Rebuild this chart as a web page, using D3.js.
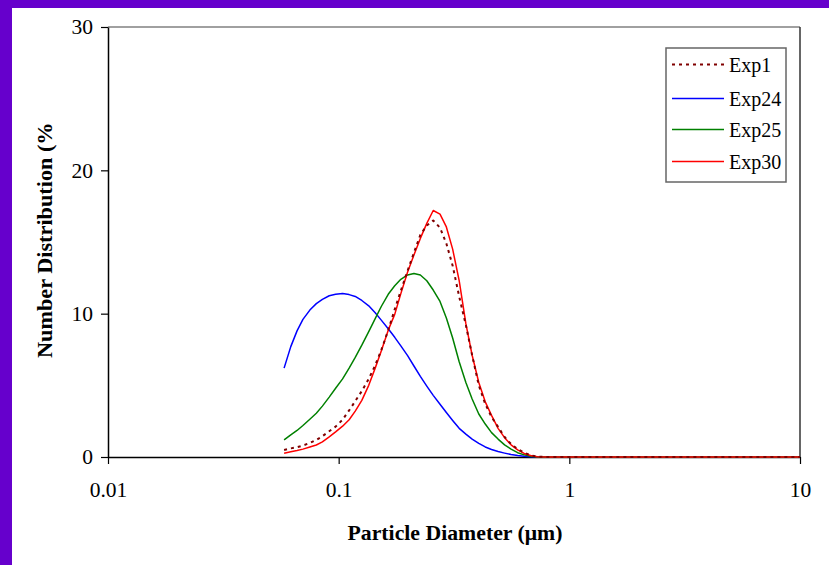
<!DOCTYPE html>
<html><head><meta charset="utf-8">
<script src="https://cdn.jsdelivr.net/npm/d3@7"></script>
<style>
html,body{margin:0;padding:0;background:#fff;}
svg{display:block;}
text{font-family:"Liberation Serif","Times New Roman",serif;}
</style></head>
<body>
<script>
const diameters = [0.058,0.062,0.066,0.070,0.075,0.080,0.085,0.091,0.097,0.104,0.111,0.118,0.126,0.135,0.144,0.153,0.164,0.175,0.186,0.199,0.212,0.226,0.241,0.257,0.275,0.293,0.312,0.333,0.356,0.379,0.405,0.432,0.460,0.491,0.524,0.559,0.597,0.637,0.679,0.725,0.8,1.0,1.5,2,3,5,7,10];
const exp1  = [0.49,0.6,0.68,0.8,0.98,1.19,1.45,1.8,2.12,2.6,3.25,3.9,4.6,5.45,6.4,7.45,8.85,10.3,11.6,13.0,14.25,15.5,16.15,16.5,16.0,14.9,13.35,11.2,9.2,7.1,5.0,3.7,2.8,2.1,1.4,0.9,0.55,0.3,0.12,0.03,0,0,0,0,0,0,0,0];
const exp24 = [6.2,7.7,8.8,9.6,10.25,10.7,11.0,11.25,11.35,11.4,11.33,11.2,10.92,10.55,10.06,9.55,8.95,8.35,7.75,7.07,6.35,5.62,4.95,4.3,3.68,3.1,2.55,2.0,1.6,1.25,0.95,0.7,0.52,0.38,0.27,0.17,0.1,0.05,0.02,0,0,0,0,0,0,0,0,0];
const exp25 = [1.2,1.55,1.85,2.2,2.63,3.05,3.55,4.18,4.8,5.45,6.2,6.95,7.8,8.75,9.65,10.5,11.35,11.95,12.4,12.7,12.8,12.7,12.3,11.65,10.85,9.7,8.3,6.65,5.2,4.05,3.0,2.3,1.7,1.25,0.85,0.55,0.3,0.15,0.05,0,0,0,0,0,0,0,0,0];
const exp30 = [0.26,0.36,0.45,0.55,0.7,0.84,1.05,1.4,1.75,2.15,2.6,3.2,3.95,5.0,6.2,7.4,8.85,9.95,11.4,12.9,14.1,15.25,16.3,17.2,16.95,16.05,14.5,12.3,9.3,7.1,5.2,3.85,2.9,2.0,1.35,0.85,0.5,0.25,0.1,0.02,0,0,0,0,0,0,0,0];
const seriesNames = ["Exp1","Exp24","Exp25","Exp30"];
const xTicks = [0.01,0.1,1,10];
const xTickLabels = ["0.01","0.1","1","10"];
const yTicks = [0,10,20,30];
const xTitle = "Particle Diameter (\u03bcm)";
const yTitle = "Number Distribution (%)";

const W = 829, H = 565;
const styles = {
  Exp1:  {color:"#800000", width:2, dash:"3,4"},
  Exp24: {color:"#0000FF", width:1.5, dash:null},
  Exp25: {color:"#008000", width:1.5, dash:null},
  Exp30: {color:"#FF0000", width:1.5, dash:null}
};
const seriesData = {Exp1:exp1, Exp24:exp24, Exp25:exp25, Exp30:exp30};

const svg = d3.select("body").append("svg").attr("width",W).attr("height",H);
svg.append("rect").attr("width",W).attr("height",H).attr("fill","#fff");
// purple frame
svg.append("rect").attr("x",0).attr("y",0).attr("width",W).attr("height",8).attr("fill","#6600CC");
svg.append("rect").attr("x",0).attr("y",0).attr("width",12).attr("height",H).attr("fill","#6600CC");

const x = d3.scaleLog().domain([0.01,10]).range([108,800]);
const y = d3.scaleLinear().domain([0,30]).range([457,27]);

// plot frame top & right
svg.append("line").attr("x1",x(0.01)).attr("x2",x(10)).attr("y1",y(30)).attr("y2",y(30)).attr("stroke","#808080").attr("stroke-width",1.5);
svg.append("line").attr("x1",x(10)).attr("x2",x(10)).attr("y1",y(30)).attr("y2",y(0)).attr("stroke","#333").attr("stroke-width",1.5);

// axes
const xAxis = d3.axisBottom(x).tickValues(xTicks).tickFormat((d,i)=>xTickLabels[i]).tickSize(7).tickSizeOuter(0).tickPadding(18);
const gx = svg.append("g").attr("transform",`translate(0,${y(0)})`).call(xAxis);
gx.select(".domain").attr("stroke","#000").attr("stroke-width",1.5);
gx.selectAll(".tick line").attr("stroke","#000").attr("stroke-width",1.2);
gx.selectAll("text").attr("font-size",21.5).attr("fill","#000").style("font-family",'"Liberation Serif",serif');

const yAxis = d3.axisLeft(y).tickValues(yTicks).tickSize(7).tickSizeOuter(0).tickPadding(8);
const gy = svg.append("g").attr("transform",`translate(${x(0.01)},0)`).call(yAxis);
gy.select(".domain").attr("stroke","#000").attr("stroke-width",1.5);
gy.selectAll(".tick line").attr("stroke","#000").attr("stroke-width",1.2);
gy.selectAll("text").attr("font-size",21.5).attr("fill","#000").style("font-family",'"Liberation Serif",serif');

// lines
const line = d3.line().x((d,i)=>x(diameters[i])).y(d=>y(d));
const drawOrder = ["Exp24","Exp25","Exp30","Exp1"];
drawOrder.forEach(name=>{
  const s = styles[name];
  svg.append("path").datum(seriesData[name]).attr("d",line)
    .attr("fill","none").attr("stroke",s.color).attr("stroke-width",s.width)
    .attr("stroke-dasharray",s.dash).attr("stroke-linejoin","round");
});

// legend
const lg = svg.append("g");
lg.append("rect").attr("x",666).attr("y",48).attr("width",120).attr("height",134)
  .attr("fill","#fff").attr("stroke","#666").attr("stroke-width",1.5);
const legY = [64.5,98.5,129.5,161.5];
seriesNames.forEach((name,i)=>{
  const s = styles[name];
  lg.append("line").attr("x1",672).attr("x2",724).attr("y1",legY[i]).attr("y2",legY[i])
    .attr("stroke",s.color).attr("stroke-width",s.width).attr("stroke-dasharray",s.dash);
  lg.append("text").attr("x",729).attr("y",legY[i]).attr("dy","0.35em").attr("font-size",20).text(name);
});

// titles
svg.append("text").attr("x",455).attr("y",533).attr("dy","0.35em").attr("text-anchor","middle")
  .attr("font-size",21).attr("font-weight","bold").attr("textLength",215).attr("lengthAdjust","spacingAndGlyphs").text(xTitle);

svg.append("clipPath").attr("id","yclip").append("rect").attr("x",0).attr("y",123).attr("width",120).attr("height",400);
svg.append("g").attr("clip-path","url(#yclip)")
  .append("text").attr("transform","translate(45,358) rotate(-90)").attr("dy","0.35em")
  .attr("text-anchor","start").attr("font-size",21).attr("font-weight","bold")
  .attr("textLength",243).attr("lengthAdjust","spacingAndGlyphs").text(yTitle);
</script>
</body></html>
